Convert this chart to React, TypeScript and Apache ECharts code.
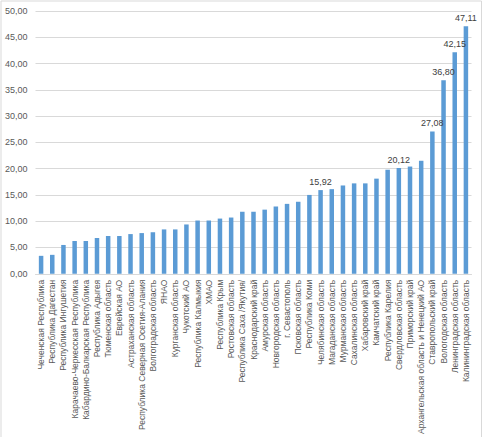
import React, { useEffect, useRef } from "react";
import * as echarts from "echarts";

const categories: string[] = [
  "Чеченская Республика",
  "Республика Дагестан",
  "Республика Ингушетия",
  "Карачаево-Черкесская Республика",
  "Кабардино-Балкарская Республика",
  "Республика Адыгея",
  "Тюменская область",
  "Еврейская АО",
  "Астраханская область",
  "Республика Северная Осетия-Алания",
  "Волгоградская область",
  "ЯНАО",
  "Курганская область",
  "Чукотский АО",
  "Республика Калмыкия",
  "ХМАО",
  "Республика Крым",
  "Ростовская область",
  "Республика Саха /Якутия/",
  "Краснодарский край",
  "Амурская область",
  "Новгородская область",
  "г. Севастополь",
  "Псковская область",
  "Республика Коми",
  "Челябинская область",
  "Магаданская область",
  "Мурманская область",
  "Сахалинская область",
  "Хабаровский край",
  "Камчатский край",
  "Республика Карелия",
  "Свердловская область",
  "Приморский край",
  "Архангельская область и Ненецкий АО",
  "Ставропольский край",
  "Вологодская область",
  "Ленинградская область",
  "Калининградская область",
];

const values: number[] = [
  3.41, 3.6, 5.48, 6.23, 6.23, 6.8, 7.18, 7.18, 7.55, 7.74,
  7.9, 8.44, 8.44, 9.38, 10.13, 10.13, 10.5, 10.7, 11.8, 11.8,
  12.2, 12.8, 13.3, 13.7, 15.0, 15.92, 16.1, 16.8, 17.2, 17.2,
  18.1, 19.8, 20.12, 20.4, 21.5, 27.08, 36.8, 42.15, 47.11,
];

const labeledCategories: string[] = [
  "Челябинская область",
  "Свердловская область",
  "Ставропольский край",
  "Вологодская область",
  "Ленинградская область",
  "Калининградская область",
];

const yTicks = { min: 0, max: 50, interval: 5 };

const fmt = (v: number) => v.toFixed(2).replace(".", ",");

export default function App() {
  const ref = useRef<HTMLDivElement>(null);
  useEffect(() => {
    if (!ref.current) return;
    const chart = echarts.init(ref.current, null, { renderer: "svg" });
    const font = "'Liberation Sans', Arial, sans-serif";
    chart.setOption({
      animation: false,
      graphic: [
        {
          type: "rect",
          shape: { x: 1, y: 1, width: 480.5, height: 450 },
          style: { fill: "none", stroke: "#d9d9d9", lineWidth: 1 },
          silent: true,
        },
      ],
      grid: { left: 35.5, right: 11.5, top: 11, bottom: 160, containLabel: false },
      xAxis: {
        type: "category",
        data: categories,
        axisLine: { show: true, lineStyle: { color: "#d9d9d9", width: 1 } },
        axisTick: { show: false },
        axisLabel: {
          rotate: 90,
          interval: 0,
          margin: 6,
          fontSize: 8.5,
          color: "#595959",
          fontFamily: font,
        },
      },
      yAxis: {
        type: "value",
        min: yTicks.min,
        max: yTicks.max,
        interval: yTicks.interval,
        axisLine: { show: false },
        axisTick: { show: false },
        splitLine: { lineStyle: { color: "#d9d9d9", width: 1 } },
        axisLabel: {
          formatter: (v: number) => fmt(v),
          fontSize: 9,
          color: "#595959",
          margin: 8,
          fontFamily: font,
        },
      },
      series: [
        {
          type: "bar",
          barWidth: 4.5,
          itemStyle: { color: "#5b9bd5" },
          data: values.map((v, i) => ({
            value: v,
            label: {
              show: labeledCategories.includes(categories[i]),
              position: "top",
              distance: 4,
              formatter: (p: any) => fmt(p.value),
              fontSize: 9,
              color: "#404040",
              fontFamily: font,
            },
          })),
        },
      ],
    });
    return () => chart.dispose();
  }, []);
  return (
    <div
      ref={ref}
      style={{ position: "fixed", left: 0, top: 0, width: 483, height: 437, background: "#fff" }}
    />
  );
}
